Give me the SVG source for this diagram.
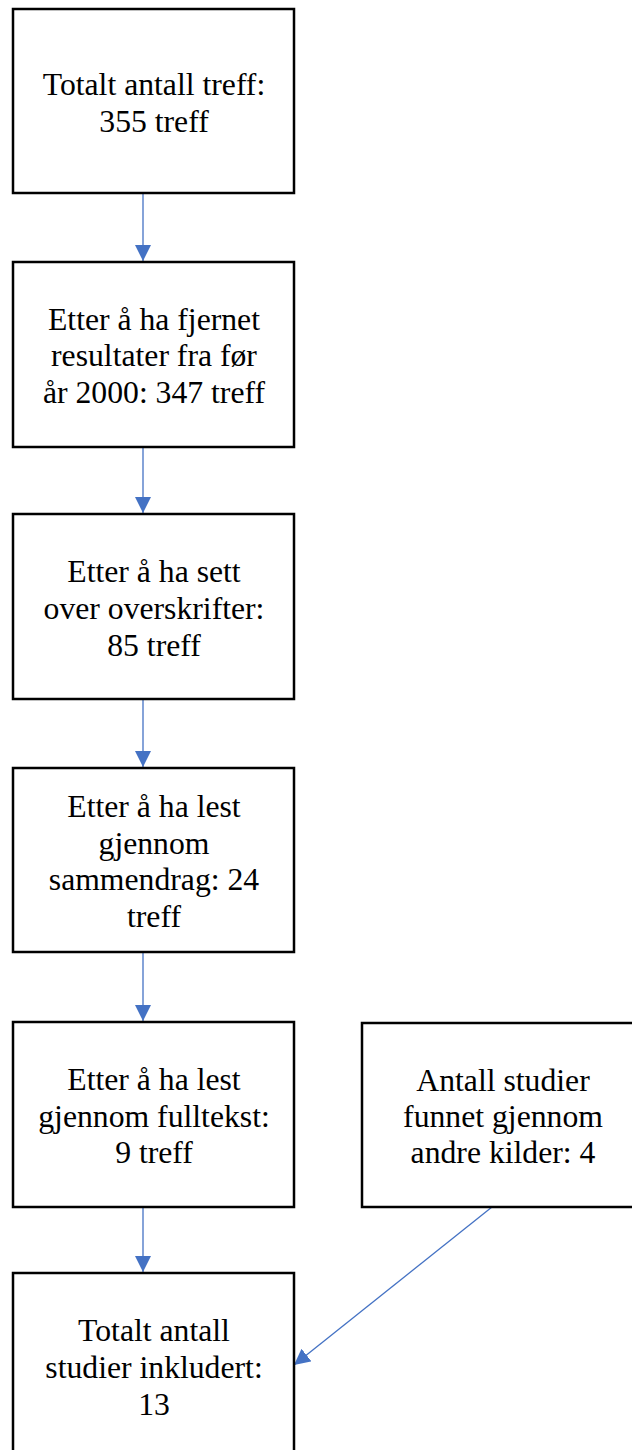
<svg xmlns="http://www.w3.org/2000/svg" width="632" height="1450" viewBox="0 0 632 1450">
  <style>
    .box { fill: #ffffff; stroke: #000000; stroke-width: 2.5; }
    .label { font-family: "Liberation Serif", "Times New Roman", serif; font-size: 31.7px; fill: #000000; text-anchor: middle; }
    .link { fill: none; stroke: #4472C4; stroke-width: 1.3; marker-end: url(#arrow); }
  </style>
  <defs>
    <marker id="arrow" markerUnits="userSpaceOnUse" markerWidth="16" markerHeight="16" viewBox="0 0 16 16" refX="16" refY="8" orient="auto">
      <path d="M0,0 L16,8 L0,16 Z" fill="#4472C4"/>
    </marker>
  </defs>
  <rect width="632" height="1450" fill="#ffffff"/>

  <!-- connectors -->
  <g id="connectors">
    <line class="link" x1="143" y1="194" x2="143" y2="261"/>
    <line class="link" x1="143" y1="448" x2="143" y2="513"/>
    <line class="link" x1="143" y1="700" x2="143" y2="767"/>
    <line class="link" x1="143" y1="953" x2="143" y2="1021"/>
    <line class="link" x1="143" y1="1208" x2="143" y2="1272"/>
    <line class="link" x1="492" y1="1207" x2="294" y2="1365"/>
  </g>

  <g id="n1">
    <rect class="box" x="13" y="9" width="281" height="184"/>
    <text class="label" x="154" y="95">Totalt antall treff:</text>
    <text class="label" x="154" y="132">355 treff</text>
  </g>

  <g id="n2">
    <rect class="box" x="13" y="262" width="281" height="185"/>
    <text class="label" x="154" y="329.5">Etter å ha fjernet</text>
    <text class="label" x="154" y="366">resultater fra før</text>
    <text class="label" x="154" y="402.5">år 2000: 347 treff</text>
  </g>

  <g id="n3">
    <rect class="box" x="13" y="514" width="281" height="185"/>
    <text class="label" x="154" y="582">Etter å ha sett</text>
    <text class="label" x="154" y="619">over overskrifter:</text>
    <text class="label" x="154" y="655.5">85 treff</text>
  </g>

  <g id="n4">
    <rect class="box" x="13" y="768" width="281" height="184"/>
    <text class="label" x="154" y="817">Etter å ha lest</text>
    <text class="label" x="154" y="853.5">gjennom</text>
    <text class="label" x="154" y="890">sammendrag: 24</text>
    <text class="label" x="154" y="927">treff</text>
  </g>

  <g id="n5">
    <rect class="box" x="13" y="1022" width="281" height="185"/>
    <text class="label" x="154" y="1090">Etter å ha lest</text>
    <text class="label" x="154" y="1127">gjennom fulltekst:</text>
    <text class="label" x="154" y="1163">9 treff</text>
  </g>

  <g id="n6">
    <rect class="box" x="362" y="1023" width="282" height="184"/>
    <text class="label" x="503" y="1091">Antall studier</text>
    <text class="label" x="503" y="1127">funnet gjennom</text>
    <text class="label" x="503" y="1163">andre kilder: 4</text>
  </g>

  <g id="n7">
    <rect class="box" x="13" y="1273" width="281" height="184"/>
    <text class="label" x="154" y="1341">Totalt antall</text>
    <text class="label" x="154" y="1377.5">studier inkludert:</text>
    <text class="label" x="154" y="1415">13</text>
  </g>
</svg>
